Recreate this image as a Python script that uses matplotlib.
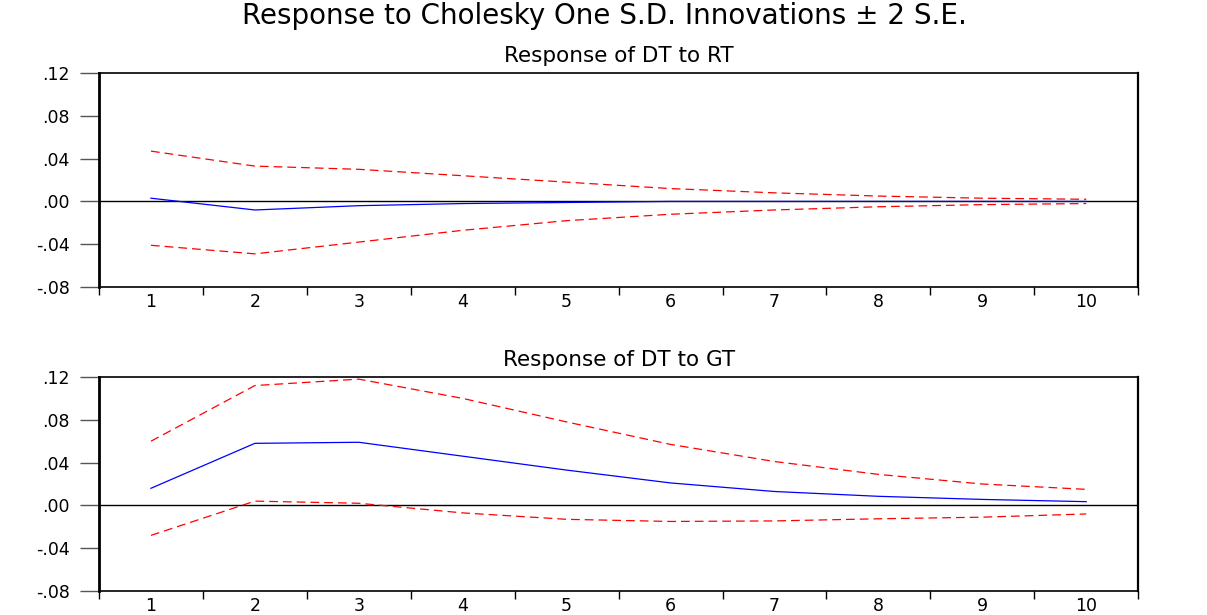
import matplotlib
matplotlib.use("Agg")
import matplotlib.pyplot as plt
from matplotlib.ticker import FixedLocator, FuncFormatter

# periods
periods = [1, 2, 3, 4, 5, 6, 7, 8, 9, 10]

# Response of DT to RT
rt_resp = [0.003, -0.008, -0.004, -0.002, -0.001, 0.0, 0.0, 0.0, 0.0, 0.0]
rt_upper = [0.047, 0.033, 0.030, 0.024, 0.018, 0.012, 0.008, 0.005, 0.003, 0.002]
rt_lower = [-0.041, -0.049, -0.038, -0.027, -0.018, -0.012, -0.008, -0.005, -0.003, -0.002]

# Response of DT to GT
gt_resp = [0.016, 0.058, 0.059, 0.046, 0.033, 0.021, 0.013, 0.0085, 0.0056, 0.0035]
gt_upper = [0.060, 0.112, 0.118, 0.100, 0.078, 0.057, 0.041, 0.029, 0.020, 0.015]
gt_lower = [-0.028, 0.004, 0.002, -0.007, -0.013, -0.015, -0.0145, -0.0125, -0.011, -0.008]

y_ticks = [-0.08, -0.04, 0.00, 0.04, 0.08, 0.12]

plt.rcParams['font.family'] = ['DejaVu Sans']

def fmt_y(v, pos):
    s = "%.2f" % v
    return s.replace("0.", ".")


def draw_panel(ax, resp, upper, lower, title):
    ax.axhline(0, color='black', lw=1.0, zorder=1)
    ax.plot(periods, resp, color='#0000ff', lw=0.9, zorder=3)
    ax.plot(periods, upper, color='#ff0000', lw=0.9, dashes=(7, 4), zorder=2)
    ax.plot(periods, lower, color='#ff0000', lw=0.9, dashes=(7, 4), zorder=2)
    ax.set_xlim(0.5, 10.5)
    ax.set_ylim(-0.08, 0.12)
    ax.yaxis.set_major_locator(FixedLocator(y_ticks))
    ax.yaxis.set_major_formatter(FuncFormatter(fmt_y))
    ax.xaxis.set_major_locator(FixedLocator(periods))
    ax.xaxis.set_minor_locator(FixedLocator([p - 0.5 for p in periods] + [10.5]))
    ax.tick_params(axis='x', which='major', length=0, pad=4, labelsize=12.5)
    ax.tick_params(axis='x', which='minor', length=6, width=1, direction='out')
    ax.tick_params(axis='y', which='major', length=14, width=1, direction='out',
                   pad=7, labelsize=12.5, color='#555555')
    for side in ['left', 'right', 'top', 'bottom']:
        ax.spines[side].set_color('black')
    ax.spines['left'].set_linewidth(2.0)
    ax.spines['right'].set_linewidth(1.6)
    ax.spines['top'].set_linewidth(1.2)
    ax.spines['bottom'].set_linewidth(1.2)
    ax.set_title(title, fontsize=15.5, pad=8)


fig = plt.figure(figsize=(12.07, 6.15), dpi=100)
ax1 = fig.add_axes([0.082, 0.5333, 0.861, 0.348])
ax2 = fig.add_axes([0.082, 0.039, 0.861, 0.348])

draw_panel(ax1, rt_resp, rt_upper, rt_lower, "Response of DT to RT")
draw_panel(ax2, gt_resp, gt_upper, gt_lower, "Response of DT to GT")

fig.text(0.501, 0.974, "Response to Cholesky One S.D. Innovations \u00b1 2 S.E.",
         ha='center', va='center', fontsize=20)

fig.savefig("out.png", dpi=100)
